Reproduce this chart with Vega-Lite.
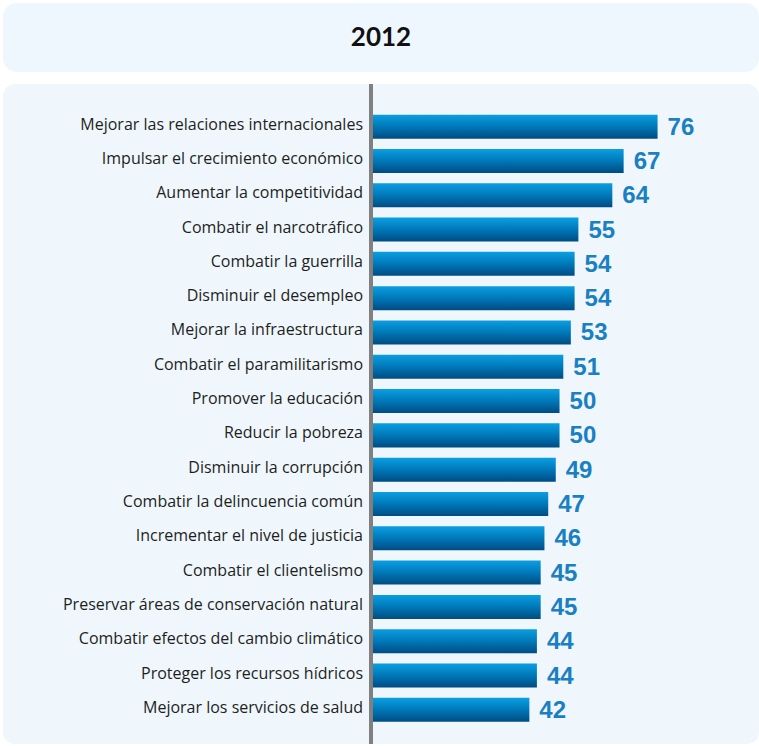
{
  "$schema": "https://vega.github.io/schema/vega-lite/v6.json",
  "padding": {"left": 3, "top": 3, "right": 0, "bottom": 4},
  "background": "white",
  "spacing": 10,
  "config": {"view": {"stroke": null}},
  "vconcat": [
    {
      "width": 756,
      "height": 69,
      "view": {"fill": "#eef7fd", "cornerRadius": 14, "stroke": null},
      "data": {"values": [{"t": "2012"}]},
      "mark": {"type": "text", "font": "Lato", "fontWeight": "bold", "fontSize": 26, "color": "#111111"},
      "encoding": {"text": {"field": "t"}}
    },
    {
      "width": 756,
      "height": 660,
      "view": {"fill": "#eff7fc", "cornerRadius": 12, "stroke": null},
      "data": {"values": [
        {"cat": "Mejorar las relaciones internacionales", "v": 76},
        {"cat": "Impulsar el crecimiento económico", "v": 67},
        {"cat": "Aumentar la competitividad", "v": 64},
        {"cat": "Combatir el narcotráfico", "v": 55},
        {"cat": "Combatir la guerrilla", "v": 54},
        {"cat": "Disminuir el desempleo", "v": 54},
        {"cat": "Mejorar la infraestructura", "v": 53},
        {"cat": "Combatir el paramilitarismo", "v": 51},
        {"cat": "Promover la educación", "v": 50},
        {"cat": "Reducir la pobreza", "v": 50},
        {"cat": "Disminuir la corrupción", "v": 49},
        {"cat": "Combatir la delincuencia común", "v": 47},
        {"cat": "Incrementar el nivel de justicia", "v": 46},
        {"cat": "Combatir el clientelismo", "v": 45},
        {"cat": "Preservar áreas de conservación natural", "v": 45},
        {"cat": "Combatir efectos del cambio climático", "v": 44},
        {"cat": "Proteger los recursos hídricos", "v": 44},
        {"cat": "Mejorar los servicios de salud", "v": 42}
      ]},
      "layer": [
        {
          "mark": {"type": "bar", "color": {"gradient": "linear", "x1": 0, "y1": 0, "x2": 0, "y2": 1,
            "stops": [{"offset": 0, "color": "#0a9fe2"}, {"offset": 0.5, "color": "#0078b8"}, {"offset": 1, "color": "#004c82"}]}},
          "encoding": {
            "y": {"field": "cat", "type": "nominal", "sort": null, "axis": null,
                  "scale": {"paddingInner": 0.3, "paddingOuter": 0.77, "align": 0.58}},
            "x": {"field": "v", "type": "quantitative", "axis": null,
                  "scale": {"domain": [-97.6, 102.9], "nice": false, "zero": false}},
            "x2": {"datum": 0}
          }
        },
        {
          "mark": {"type": "text", "align": "left", "baseline": "middle", "dx": 10, "dy": 1,
                   "font": "Liberation Sans", "fontWeight": "bold", "fontSize": 24, "color": "#1a7fc3"},
          "encoding": {
            "y": {"field": "cat", "type": "nominal", "sort": null},
            "x": {"field": "v", "type": "quantitative"},
            "text": {"field": "v"}
          }
        },
        {
          "mark": {"type": "text", "align": "right", "baseline": "middle", "dx": -8, "dy": -2,
                   "font": "Open Sans", "fontSize": 16, "color": "#1e1e1e"},
          "encoding": {
            "y": {"field": "cat", "type": "nominal", "sort": null},
            "x": {"datum": 0},
            "text": {"field": "cat"}
          }
        },
        {
          "mark": {"type": "rule", "color": "#808080", "strokeWidth": 2.5},
          "encoding": {"x": {"datum": 0}}
        }
      ]
    }
  ]
}
